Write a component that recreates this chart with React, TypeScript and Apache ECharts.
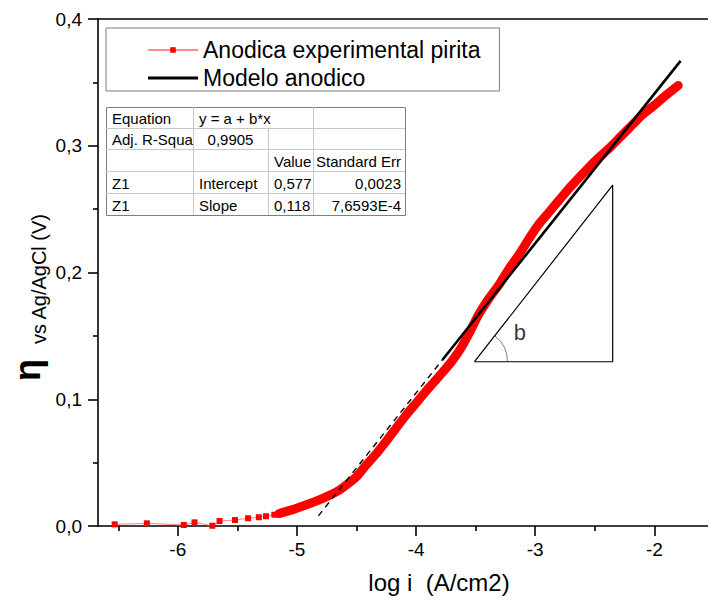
import React, { useEffect, useRef } from "react";
import * as echarts from "echarts";

// Sparse low-current points (log i, eta)
const lowCurrent: number[][] = [
  [-6.53, 0.0013], [-6.26, 0.0021], [-5.95, 0.0008], [-5.86, 0.0029], [-5.71, 0.0002],
  [-5.65, 0.0039], [-5.52, 0.0047], [-5.41, 0.0061], [-5.32, 0.0069], [-5.26, 0.0077],
  [-5.19, 0.0089], [-5.15, 0.0098],
];

// Dense anodic branch (log i, eta)
const anodicBand: number[][] = [
  [-5.15, 0.0098], [-5.05, 0.0125], [-4.95, 0.0158], [-4.85, 0.0192], [-4.75, 0.0232],
  [-4.65, 0.0280], [-4.57, 0.0335], [-4.50, 0.0390], [-4.42, 0.0480], [-4.33, 0.0575],
  [-4.25, 0.0670], [-4.17, 0.0770], [-4.08, 0.0880], [-4.00, 0.0970], [-3.92, 0.1060],
  [-3.85, 0.1135], [-3.78, 0.1210], [-3.70, 0.1300], [-3.62, 0.1410], [-3.55, 0.1530],
  [-3.48, 0.1660], [-3.40, 0.1780], [-3.30, 0.1910], [-3.22, 0.2030], [-3.13, 0.2150],
  [-3.05, 0.2270], [-2.97, 0.2380], [-2.88, 0.2480], [-2.80, 0.2570], [-2.70, 0.2680],
  [-2.57, 0.2810], [-2.48, 0.2895], [-2.38, 0.2980], [-2.28, 0.3075], [-2.18, 0.3170],
  [-2.10, 0.3245], [-2.00, 0.3320], [-1.90, 0.3400], [-1.80, 0.3475],
];

// Tafel model line and its dashed extrapolation
const modelLine: number[][] = [[-3.78, 0.1310], [-1.78, 0.3670]];
const modelExtension: number[][] = [[-4.82, 0.0080], [-3.78, 0.1310]];

// Slope triangle: bottom-left, bottom-right, top, back to start
const slopeTriangle: number[][] = [[-3.51, 0.1296], [-2.35, 0.1296], [-2.35, 0.2690], [-3.51, 0.1296]];
const slopeArc: number[][] = [[-3.51, 0.1296, -2.35, 0.2690]];
const slopeLabelPos: number[][] = [[-3.13, 0.1525]];

const xMajorTicks = [-6, -5, -4, -3, -2];
const xMinorTicks = [-6.5, -5.5, -4.5, -3.5, -2.5];

const seriesNames = ["Anodica experimental pirita", "Modelo anodico"];

// Fit result table rows
const tableRows: string[][] = [
  ["Equation", "y = a + b*x", "", ""],
  ["Adj. R-Squa", "0,9905", "", ""],
  ["", "", "Value", "Standard Err"],
  ["Z1", "Intercept", "0,577", "0,0023"],
  ["Z1", "Slope", "0,118", "7,6593E-4"],
];

const FONT = "'Liberation Sans', Arial, Helvetica, sans-serif";

function buildTable(): any[] {
  const x0 = 106, x1 = 405;
  const cols = [106, 193, 268, 313, 405];
  const rows = [107, 128, 149, 171, 193, 215];
  const els: any[] = [];
  els.push({
    type: "rect",
    shape: { x: x0 + 0.5, y: rows[0] + 0.5, width: x1 - x0, height: rows[5] - rows[0] },
    style: { fill: "#ffffff", stroke: "#7f7f7f", lineWidth: 1 },
    z: 10,
  });
  for (let r = 1; r < 5; r++) {
    els.push({
      type: "line",
      shape: { x1: x0, y1: rows[r] + 0.5, x2: x1, y2: rows[r] + 0.5 },
      style: { stroke: "#c8c8c8", lineWidth: 1 },
      z: 11,
    });
  }
  for (let r = 0; r < 5; r++) {
    for (let c = 1; c < 4; c++) {
      if (r === 0 && c === 2) continue; // merged equation cell
      els.push({
        type: "line",
        shape: { x1: cols[c] + 0.5, y1: rows[r], x2: cols[c] + 0.5, y2: rows[r + 1] },
        style: { stroke: "#c8c8c8", lineWidth: 1 },
        z: 11,
      });
    }
  }
  tableRows.forEach((row, r) => {
    const cy = (rows[r] + rows[r + 1]) / 2 + 1;
    row.forEach((txt, c) => {
      if (!txt) return;
      let x = cols[c] + 6;
      let align = "left";
      if (r === 1 && c === 1) { x = (cols[1] + cols[2]) / 2; align = "center"; }
      if (c === 3) { x = cols[4] - 4; align = "right"; }
      els.push({
        type: "text",
        x, y: cy,
        style: { text: txt, fontSize: 15, fontFamily: FONT, fill: "#000", align, verticalAlign: "middle" },
        z: 12,
      });
    });
  });
  return els;
}

export default function App() {
  const ref = useRef<HTMLDivElement>(null);

  useEffect(() => {
    document.body.style.margin = "0";
    if (!ref.current) return;
    const chart = echarts.init(ref.current, undefined, { renderer: "svg" });

    const axisCommon = {
      type: "value",
      min: -6.67,
      max: -1.55,
      splitLine: { show: false },
    };

    chart.setOption({
      animation: false,
      backgroundColor: "#ffffff",
      grid: { left: 98, top: 19, right: 0, bottom: 80, outerBoundsMode: "none" },
      legend: {
        orient: "vertical",
        left: 106,
        top: 28,
        padding: [10, 19, 1, 41],
        itemWidth: 50,
        itemHeight: 7,
        itemGap: 4,
        itemTextGap: 8,
        borderColor: "#7f7f7f",
        borderWidth: 1,
        backgroundColor: "#ffffff",
        textStyle: { fontSize: 23, fontFamily: FONT, color: "#000", lineHeight: 24 },
        data: [
          { name: seriesNames[0] },
          { name: seriesNames[1], icon: "path://M0,0L50,0L50,3L0,3Z" },
        ],
      },
      xAxis: [
        {
          ...axisCommon,
          position: "bottom",
          axisLine: { show: true, lineStyle: { color: "#000", width: 1.6 } },
          axisTick: { show: true, length: 10, lineStyle: { color: "#000", width: 1.6 }, customValues: xMajorTicks },
          axisLabel: {
            show: true, margin: 14, fontSize: 19, fontFamily: FONT, color: "#000",
            customValues: xMajorTicks,
            formatter: (v: number) => String(v),
          },
        },
        {
          ...axisCommon,
          position: "bottom",
          axisLine: { show: false },
          axisTick: { show: true, length: 5, lineStyle: { color: "#000", width: 1.6 }, customValues: xMinorTicks },
          axisLabel: { show: false },
        },
        {
          ...axisCommon,
          position: "top",
          axisLine: { show: true, onZero: false, lineStyle: { color: "#000", width: 1.6 } },
          axisTick: { show: false },
          axisLabel: { show: false },
        },
      ],
      yAxis: {
        type: "value",
        min: 0,
        max: 0.4,
        interval: 0.1,
        splitLine: { show: false },
        axisLine: { show: true, lineStyle: { color: "#000", width: 1.6 } },
        axisTick: { show: true, length: 10, lineStyle: { color: "#000", width: 1.6 } },
        minorTick: { show: true, splitNumber: 2, length: 5, lineStyle: { color: "#000", width: 1.6 } },
        axisLabel: {
          margin: 16, fontSize: 19, fontFamily: FONT, color: "#000",
          formatter: (v: number) => v.toFixed(1).replace(".", ","),
        },
      },
      series: [
        {
          name: "band",
          type: "line",
          data: anodicBand,
          showSymbol: false,
          smooth: 0.25,
          lineStyle: { color: "#ff0000", width: 9, cap: "round", join: "round" },
          silent: true,
          z: 3,
        },
        {
          name: seriesNames[0],
          type: "line",
          data: lowCurrent,
          symbol: "rect",
          symbolSize: 6,
          showAllSymbol: true,
          itemStyle: { color: "#ff0000" },
          lineStyle: { color: "#ff8a8a", width: 1 },
          z: 4,
        },
        {
          name: seriesNames[1],
          type: "line",
          data: modelLine,
          showSymbol: false,
          symbol: "none",
          itemStyle: { color: "#000" },
          lineStyle: { color: "#000", width: 2.6 },
          z: 5,
        },
        {
          name: "extension",
          type: "line",
          data: modelExtension,
          showSymbol: false,
          symbol: "none",
          lineStyle: { color: "#000", width: 1.4, type: [6, 5] },
          z: 5,
        },
        {
          name: "triangle",
          type: "line",
          data: slopeTriangle,
          showSymbol: false,
          symbol: "none",
          lineStyle: { color: "#000", width: 1.2 },
          z: 5,
        },
        {
          name: "angle",
          type: "custom",
          data: slopeArc,
          encode: { x: [0, 2], y: [1, 3] },
          renderItem: (_params: any, api: any) => {
            const p0 = api.coord([api.value(0), api.value(1)]);
            const p1 = api.coord([api.value(2), api.value(3)]);
            const ang = Math.atan2(p1[1] - p0[1], p1[0] - p0[0]);
            return {
              type: "arc",
              shape: { cx: p0[0], cy: p0[1], r: 33, startAngle: ang, endAngle: 0, clockwise: true },
              style: { stroke: "#808080", lineWidth: 1, fill: "none" },
            };
          },
          z: 5,
        },
        {
          name: "slopeLabel",
          type: "scatter",
          data: slopeLabelPos,
          symbolSize: 1,
          itemStyle: { color: "transparent" },
          label: { show: true, position: "inside", formatter: "b", fontSize: 22, fontFamily: FONT, color: "#000" },
          z: 6,
        },
      ],
      graphic: [
        {
          type: "text",
          x: 439,
          y: 582,
          style: { text: "log i  (A/cm2)", fontSize: 24, fontFamily: FONT, fill: "#000", align: "center", verticalAlign: "middle" },
        },
        {
          type: "text",
          x: 39,
          y: 279,
          rotation: Math.PI / 2,
          style: { text: "vs Ag/AgCl (V)", fontSize: 20, fontFamily: FONT, fill: "#000", align: "center", verticalAlign: "middle" },
        },
        {
          type: "text",
          x: 27,
          y: 370,
          rotation: Math.PI / 2,
          style: { text: "η", fontSize: 36, fontWeight: "bold", fontFamily: FONT, fill: "#000", align: "center", verticalAlign: "middle" },
        },
        ...buildTable(),
      ],
    });

    return () => chart.dispose();
  }, []);

  return <div ref={ref} style={{ width: 708, height: 606 }} />;
}
